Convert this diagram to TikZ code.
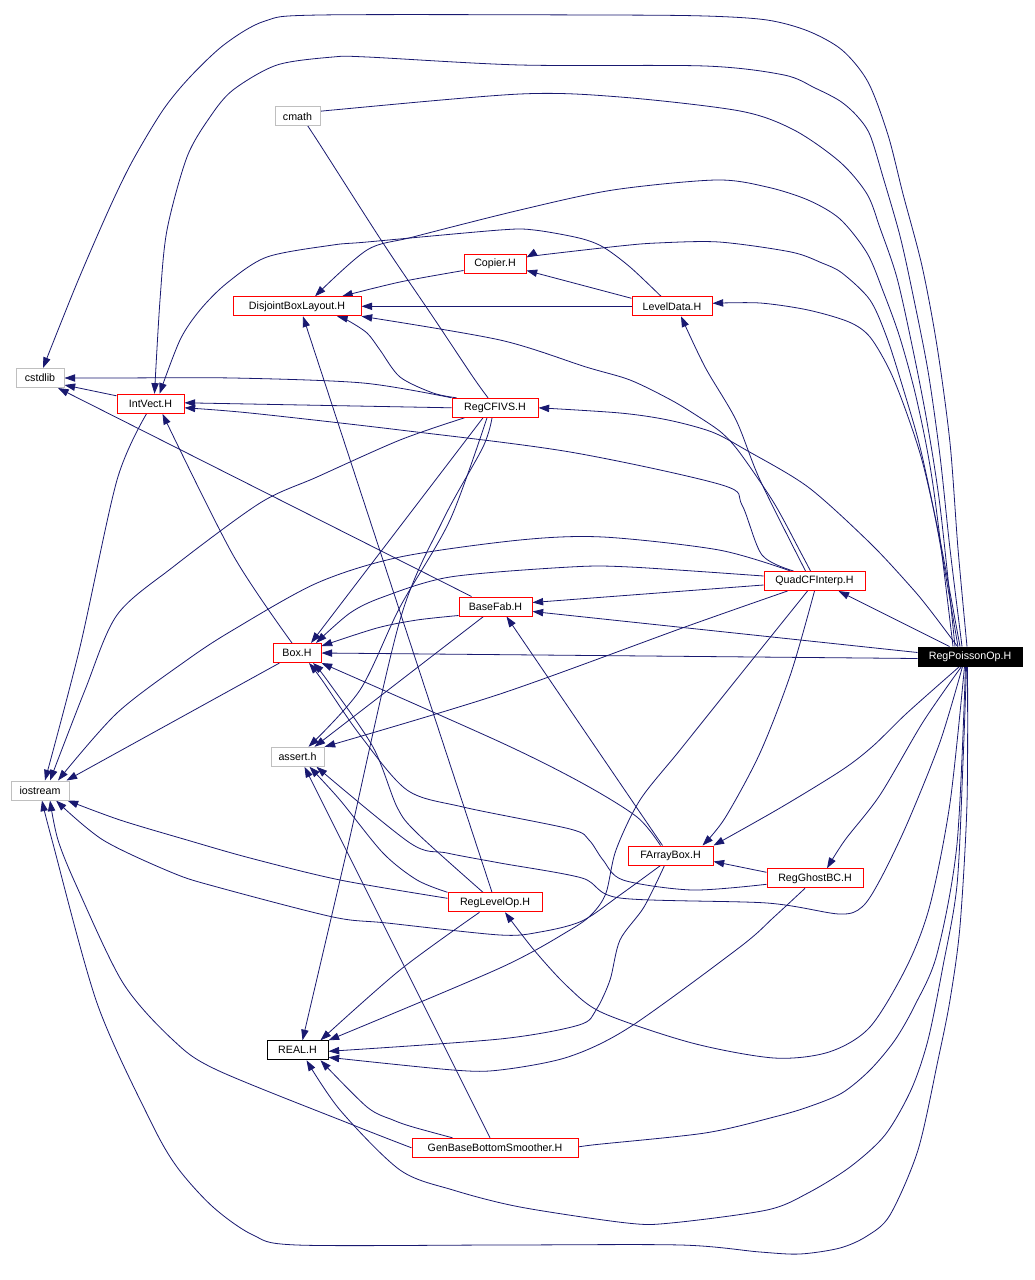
\documentclass[tikz,border=0pt]{standalone}
\usepackage{fontspec}
\setmainfont{Liberation Sans}
\usetikzlibrary{arrows.meta,calc,backgrounds}
\definecolor{edgeblue}{HTML}{191970}
\definecolor{graybd}{HTML}{BFBFBF}
\begin{document}
\begin{tikzpicture}[x=0.75pt,y=-0.75pt,
  box/.style={draw, line width=0.75pt, fill=white, inner sep=0pt, minimum height=14.25pt, font=\fontsize{8pt}{9.6pt}\selectfont},
  grayn/.style={box, draw=graybd},
  redn/.style={box, draw=red},
  blackn/.style={box, draw=black},
  rootn/.style={box, draw=black, fill=black, text=white},
  edge/.style={draw=edgeblue, line width=0.6pt, -{Triangle[length=8pt,width=5.5pt]}}]
\useasboundingbox (0,0) rectangle (1034,1280);
% nodes
\node[grayn, minimum width=33.75pt] (cmath) at (297.5,116.5) {cmath};
\node[redn, minimum width=46.5pt] (Copier) at (495,263.5) {Copier.H};
\node[redn, minimum width=96pt] (DBL) at (297,306.3) {DisjointBoxLayout.H};
\node[redn, minimum width=60pt] (LevelData) at (672,306.3) {LevelData.H};
\node[grayn, minimum width=36pt] (cstdlib) at (40,378) {cstdlib};
\node[redn, minimum width=50.25pt] (IntVect) at (150.5,403.8) {IntVect.H};
\node[redn, minimum width=64.5pt] (RegCFIVS) at (495,407.8) {RegCFIVS.H};
\node[redn, minimum width=75.75pt] (QuadCF) at (814.5,581) {QuadCFInterp.H};
\node[redn, minimum width=54.75pt] (BaseFab) at (495.5,606.5) {BaseFab.H};
\node[redn, minimum width=36pt] (Box) at (297,653) {Box.H};
\node[rootn, minimum width=78pt] (R) at (970,656.5) {RegPoissonOp.H};
\node[grayn, minimum width=39.75pt] (assert) at (297.5,756.8) {assert.h};
\node[grayn, minimum width=43.5pt] (iostream) at (40,790.5) {iostream};
\node[redn, minimum width=63.75pt] (FArrayBox) at (670.5,855.5) {FArrayBox.H};
\node[redn, minimum width=72pt] (RegGhostBC) at (815,878.3) {RegGhostBC.H};
\node[redn, minimum width=70.5pt] (RegLevelOp) at (495,902.3) {RegLevelOp.H};
\node[blackn, minimum width=45.75pt] (REAL) at (297.5,1050.3) {REAL.H};
\node[redn, minimum width=124.5pt] (GBBS) at (495,1147.8) {GenBaseBottomSmoother.H};

\begin{pgfonlayer}{background}
\fill[white] (0,0) rectangle (1034,1280);
% ---- RegPoissonOp edges
\draw[edge] plot[smooth] coordinates {($(R.north)+(-3,0)$) (958,549) (950,443) (937,346) (922,266) (903,194) (888,135) (868,82) (842,50) (808,31) (767,20) (705,16) (600,15) (320,15) (265,21) (225,44) (190,77) (163,110) (133,160) (110,207) (77,283) ($(cstdlib.north)+(3,0)$)};
\draw[edge] plot[smooth] coordinates {($(R.north)+(-8,0)$) (950,549) (940,456) (928,371) (913,295) (900,236) (883,177) (870,135) (857,116) (840,101) (815,88) (784,75) (705,66) (520,65) (367,57) (333,57) (277,65) (233,90) (210,117) (187,157) (167,230) (160,300) ($(IntVect.north)+(4,0)$)};
\draw[edge] plot[smooth] coordinates {($(R.north)+(-15,0)$) (940,506) (927,422) (913,350) (897,278) (880,228) (867,194) (840,162) (794,130) (740,111) (620,97) (520,94) (333,110) ($(cmath.east)+(0,-4.5)$)};
\draw[edge] plot[smooth] coordinates {($(R.north)+(-17,0)$) (933,485) (917,401) (900,338) (883,291) (867,253) (840,219) (808,200) (767,187) (716,180) (613,190) (520,210) (413,237) (367,250) ($(DBL.north)+(18,0)$)};
\draw[edge] plot[smooth] coordinates {($(R.north)+(-12,0)$) (937,527) (920,447) (903,388) (887,338) (870,300) (842,273) (822,263) (791,252) (719,242) (657,243) (620,246) (541,255) ($(Copier.east)+(0,-6)$)};
\draw[edge] plot[smooth] coordinates {($(R.north)+(-10,0)$) (940,540) (923,464) (907,414) (890,371) (870,337) (849,322) (808,310) (760,303) ($(LevelData.east)+(0,-3)$)};
\draw[edge] plot[smooth] coordinates {($(R.north west)+(40,0)$) (930,610) (911,587) (870,543) (808,487) (746,450) (712,432) (668,420) (620,413) (RegCFIVS.east)};
\draw[edge] ($(R.north west)+(32,0)$) -- ($(QuadCF.south east)+(-27,0)$);
\draw[edge] ($(R.west)+(0,-4)$) -- ($(BaseFab.east)+(0,5)$);
\draw[edge] ($(R.west)+(0,2)$) -- (Box.east);
\draw[edge] plot[smooth] coordinates {($(R.south west)+(42,0)$) (907,713) (873,746) (842,770) (780,808) (FArrayBox.north east)};
\draw[edge] plot[smooth] coordinates {($(R.south west)+(44,0)$) (923,722) (880,795) (845,840) ($(RegGhostBC.north)+(12,0)$)};
\draw[edge] plot[smooth] coordinates {($(R.south west)+(45,0)$) (940,742) (907,824) (880,880) (862,907) (839,914) (767,903) (620,898) (582,878) (500,863) (447,853) (410,843) ($(assert.south)+(19,0)$)};
\draw[edge] plot[smooth] coordinates {($(R.south west)+(47,0)$) (950,803) (930,905) (907,966) (870,1027) (829,1052) (774,1058) (692,1043) (603,1013) (568,987) (534,950) ($(RegLevelOp.south)+(10,0)$)};
\draw[edge] plot[smooth] coordinates {($(R.south west)+(48,0)$) (957,844) (937,954) (915,1005) (895,1040) (870,1070) (842,1093) (808,1107) (774,1117) (705,1133) (592,1145) (GBBS.east)};
\draw[edge] plot[smooth] coordinates {($(R.south west)+(49,0)$) (963,762) (957,885) (943,966) (928,1040) (911,1090) (885,1135) (850,1167) (808,1193) (767,1210) (671,1223) (627,1223) (520,1207) (453,1190) (400,1170) (340,1110) ($(REAL.south)+(9,0)$)};
\draw[edge] plot[smooth] coordinates {($(R.south west)+(50,0)$) (967,803) (960,926) (950,1000) (938,1060) (918,1150) (890,1215) (867,1236) (840,1248) (800,1254) (760,1252) (681,1245) (500,1245) (297,1245) (253,1235) (213,1207) (177,1167) (150,1120) (97,1003) (52,840) ($(iostream.south)+(2,0)$)};
% ---- Copier / LevelData
\draw[edge] plot[smooth] coordinates {($(Copier.west)+(0,7)$) (400,282) ($(DBL.north)+(45,0)$)};
\draw[edge] ($(LevelData.west)+(0,-8)$) -- ($(Copier.east)+(0,7)$);
\draw[edge] (LevelData.west) -- (DBL.east);
\draw[edge] plot[smooth] coordinates {($(LevelData.north)+(-11,0)$) (630,267) (603,247) (579,238) (534,230) (500,230) (367,242) (333,245) (267,257) (227,283) (200,310) (180,340) ($(IntVect.north)+(9,0)$)};
% ---- RegCFIVS
\draw[edge] plot[smooth] coordinates {(RegCFIVS.north west) (363,383) (233,378) (113,378) (cstdlib.east)};
\draw[edge] (RegCFIVS.west) -- ($(IntVect.east)+(0,-1)$);
\draw[edge] plot[smooth] coordinates {($(RegCFIVS.north west)+(5,0)$) (433,393) (400,377) (380,350) (367,333) (347,320) ($(DBL.south)+(40,0)$)};
\draw[edge] plot[smooth] coordinates {($(RegCFIVS.north)+(-7,0)$) (473,377) (433,317) (383,243) (317,140) ($(cmath.south)+(10,0)$)};
\draw[edge] plot[smooth] coordinates {($(RegCFIVS.south west)+(13,0)$) (400,440) (317,477) (260,503) (173,567) (117,615) (85,690) ($(iostream.north)+(10,0)$)};
\draw[edge] ($(RegCFIVS.south)+(-12,0)$) -- ($(Box.north)+(14,0)$);
\draw[edge] plot[smooth] coordinates {($(RegCFIVS.south)+(-8,0)$) (450,520) (400,607) (360,690) ($(assert.north)+(11,0)$)};
\draw[edge] plot[smooth] coordinates {($(RegCFIVS.south)+(-3,0)$) (483,447) (443,520) (400,620) (347,850) ($(REAL.north)+(5,0)$)};
% ---- BaseFab
\draw[edge] ($(BaseFab.north west)+(13,0)$) -- ($(cstdlib.south)+(18,0)$);
\draw[edge] plot[smooth] coordinates {($(BaseFab.south west)+(0,-1)$) (417,620) (377,628) ($(Box.east)+(0,-7)$)};
\draw[edge] ($(BaseFab.south)+(-12,0)$) -- ($(assert.north)+(17,0)$);
% ---- Box / IntVect
\draw[edge] plot[smooth] coordinates {($(Box.north)+(-5,0)$) (233,555) ($(IntVect.south)+(12,0)$)};
\draw[edge] ($(Box.south west)+(7,0)$) -- ($(iostream.north east)+(-3,0)$);
\draw[edge] ($(IntVect.north west)+(0,2)$) -- ($(cstdlib.east)+(0,7)$);
\draw[edge] plot[smooth] coordinates {($(IntVect.south)+(-4,0)$) (117,480) (80,647) ($(iostream.north)+(5,0)$)};
% ---- QuadCFInterp
\draw[edge] plot[smooth] coordinates {($(QuadCF.north)+(-9,0)$) (760,480) (736,420) (705,367) ($(LevelData.south)+(9,0)$)};
\draw[edge] plot[smooth] coordinates {($(QuadCF.north)+(-4,0)$) (801,553) (774,503) (740,453) (722,433) (699,417) (671,400) (630,380) (586,367) (500,340) (DBL.south east)};
\draw[edge] plot[smooth] coordinates {($(QuadCF.north west)+(30,0)$) (762,555) (742,505) (722,485) (570,452) (400,430) (250,413) ($(IntVect.east)+(0,4)$)};
\draw[edge] plot[smooth] coordinates {($(QuadCF.north west)+(27,0)$) (719,550) (603,537) (520,540) (400,557) (317,583) (233,630) (187,660) (117,713) ($(iostream.north)+(18,0)$)};
\draw[edge] plot[smooth] coordinates {($(QuadCF.west)+(0,-5)$) (630,567) (570,567) (450,577) (383,597) (350,613) ($(Box.north)+(19,0)$)};
\draw[edge] ($(QuadCF.west)+(0,4)$) -- ($(BaseFab.east)+(0,-4)$);
\draw[edge] plot[smooth] coordinates {($(QuadCF.south west)+(24,0)$) (685,627) (500,694) (assert.north east)};
\draw[edge] plot[smooth] coordinates {(QuadCF.south) (791,673) (760,753) (725,818) ($(FArrayBox.north)+(32,0)$)};
\draw[edge] plot[smooth] coordinates {($(QuadCF.south)+(-7,0)$) (740,675) (680,750) (640,800) (616,850) (606,893) (592,914) (570,930) (500,968) (REAL.north east)};
% ---- FArrayBox
\draw[edge] plot[smooth] coordinates {($(FArrayBox.south)+(-10,0)$) (620,895) (582,921) (540,932) (500,935) (387,923) (333,917) (217,887) (173,873) (103,840) ($(iostream.south)+(16,0)$)};
\draw[edge] plot[smooth] coordinates {($(FArrayBox.south)+(-6,0)$) (644,907) (620,940) (610,980) (596,1010) (579,1025) (500,1039) ($(REAL.east)+(0,1)$)};
\draw[edge] ($(FArrayBox.north)+(-8,0)$) -- ($(BaseFab.south)+(11,0)$);
\draw[edge] plot[smooth] coordinates {($(FArrayBox.north)+(-10,0)$) (637,817) (582,783) (500,742) (Box.south east)};
% ---- RegGhostBC
\draw[edge] ($(RegGhostBC.west)+(0,-6)$) -- ($(FArrayBox.east)+(0,6)$);
\draw[edge] plot[smooth] coordinates {($(RegGhostBC.west)+(0,6)$) (692,890) (623,880) (603,860) (589,840) (570,829) (463,807) (407,790) (360,735) (322,680) ($(Box.south)+(12,0)$)};
\draw[edge] plot[smooth] coordinates {($(RegGhostBC.south)+(-10,0)$) (774,917) (740,947) (630,1027) (568,1057) (500,1070) (453,1070) ($(REAL.east)+(0,7)$)};
% ---- RegLevelOp
\draw[edge] ($(RegLevelOp.north)+(-3,0)$) -- ($(DBL.south)+(6,0)$);
\draw[edge] plot[smooth] coordinates {($(RegLevelOp.north)+(-12,0)$) (417,833) (397,807) (373,747) (327,680) ($(Box.south)+(16,0)$)};
\draw[edge] plot[smooth] coordinates {(RegLevelOp.north west) (417,880) (383,853) (340,800) ($(assert.south)+(12,0)$)};
\draw[edge] plot[smooth] coordinates {($(RegLevelOp.west)+(0,-4)$) (340,880) (250,858) (187,840) (120,820) ($(iostream.south east)+(-2,0)$)};
\draw[edge] plot[smooth] coordinates {($(RegLevelOp.south west)+(32,0)$) (400,970) ($(REAL.north east)+(-8,0)$)};
% ---- GenBaseBottomSmoother
\draw[edge] plot[smooth] coordinates {(GBBS.west) (353,1125) (217,1070) (173,1040) (123,983) (77,887) (58,840) ($(iostream.south)+(10,0)$)};
\draw[edge] plot[smooth] coordinates {($(GBBS.north west)+(41,0)$) (413,1127) (393,1120) (367,1107) ($(REAL.south east)+(-8,0)$)};
\draw[edge] ($(GBBS.north)+(-5,0)$) -- ($(assert.south)+(7,0)$);
\end{pgfonlayer}
\end{tikzpicture}
\end{document}
